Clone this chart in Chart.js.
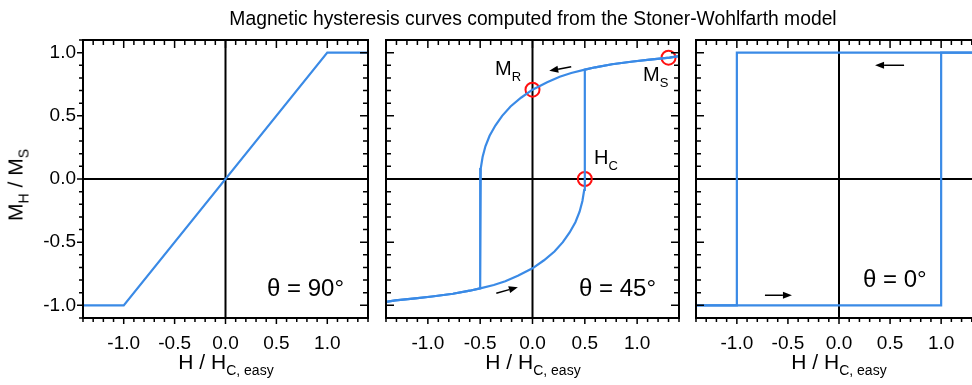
<!DOCTYPE html>
<html>
<head>
<meta charset="utf-8">
<script src="https://cdn.jsdelivr.net/npm/chart.js@4.4.1/dist/chart.umd.min.js"></script>
<style>
  body { margin: 0; width: 972px; height: 385px; overflow: hidden; background: #fff; position: relative;
         font-family: "Liberation Sans", Arial, sans-serif; color: #000; }
  canvas { position: absolute; top: 0; }
  .lbl { position: absolute; white-space: nowrap; line-height: 1; }
  .lbl sub { position: relative; top: 0.45em; vertical-align: baseline; line-height: 0; }
  .ttl { font-size: 19.3px; }
  .axt { font-size: 21px; }
  .axt sub { font-size: 14px; }
  .ang { font-size: 24px; }
  .mk { font-size: 20px; }
  .mk sub { font-size: 13px; }
</style>
</head>
<body>
<canvas id="p90" width="376" height="385" style="left:0px"></canvas>
<canvas id="p45" width="312" height="385" style="left:376px"></canvas>
<canvas id="p0" width="312" height="385" style="left:688px"></canvas>

<div class="lbl ttl" style="left:533px; top:9px; transform:translateX(-50%)">Magnetic hysteresis curves computed from the Stoner-Wohlfarth model</div>

<div class="lbl axt" style="left:15px; top:185px; transform:translate(-50%,-50%) rotate(-90deg)">M<sub>H</sub> / M<sub>S</sub></div>

<div class="lbl axt" style="left:226px; top:351px; transform:translateX(-50%)">H / H<sub>C, easy</sub></div>
<div class="lbl axt" style="left:533px; top:351px; transform:translateX(-50%)">H / H<sub>C, easy</sub></div>
<div class="lbl axt" style="left:839px; top:351px; transform:translateX(-50%)">H / H<sub>C, easy</sub></div>

<div class="lbl ang" style="left:267px; top:276px">&theta; = 90&deg;</div>
<div class="lbl ang" style="left:579px; top:276px">&theta; = 45&deg;</div>
<div class="lbl ang" style="left:863px; top:267px">&theta; = 0&deg;</div>

<div class="lbl mk" style="left:495px; top:58px">M<sub>R</sub></div>
<div class="lbl mk" style="left:643px; top:64px">M<sub>S</sub></div>
<div class="lbl mk" style="left:594px; top:147px">H<sub>C</sub></div>

<script>
"use strict"

// axis ranges and labelled ticks
const hRange = [-1.4, 1.4];
const mRange = [-1.1, 1.1];
const majorTicks = [-1.0, -0.5, 0.0, 0.5, 1.0];

// theta = 90 deg (hard axis)
const h90 = [-1.4, -1.0, 1.0, 1.4];
const m90 = [-1.0, -1.0, 1.0, 1.0];

// theta = 45 deg, field sweeping down
const h45Down = [1.4, 1.31, 1.12, 0.96, 0.76, 0.6, 0.5, 0.37, 0.26, 0.14, 0.0, -0.11, -0.21, -0.29, -0.355, -0.41, -0.45, -0.477, -0.494, -0.5,
                 -0.5, -0.6, -0.76, -0.96, -1.12, -1.31, -1.4];
const m45Down = [0.972, 0.96, 0.945, 0.93, 0.908, 0.884, 0.866, 0.839, 0.809, 0.766, 0.707, 0.643, 0.574, 0.5, 0.423, 0.342, 0.259, 0.174, 0.087, 0.0,
                 -0.866, -0.884, -0.908, -0.93, -0.945, -0.96, -0.972];
// theta = 45 deg, field sweeping up
const h45Up = [-1.4, -1.31, -1.12, -0.96, -0.76, -0.6, -0.5, -0.37, -0.26, -0.14, 0.0, 0.11, 0.21, 0.29, 0.355, 0.41, 0.45, 0.477, 0.494, 0.5,
               0.5, 0.6, 0.76, 0.96, 1.12, 1.31, 1.4];
const m45Up = [-0.972, -0.96, -0.945, -0.93, -0.908, -0.884, -0.866, -0.839, -0.809, -0.766, -0.707, -0.643, -0.574, -0.5, -0.423, -0.342, -0.259, -0.174, -0.087, 0.0,
               0.866, 0.884, 0.908, 0.93, 0.945, 0.96, 0.972];
// remanence, coercivity, saturation markers
const markH = [0.0, 0.5, 1.3];
const markM = [0.707, 0.0, 0.96];

// theta = 0 deg (easy axis)
const h0Up = [-1.4, 1.0, 1.0, 1.4];
const m0Up = [-1.0, -1.0, 1.0, 1.0];
const h0Down = [1.4, -1.0, -1.0, -1.4];
const m0Down = [1.0, 1.0, -1.0, -1.0];

const blue = "#3a8ae6";

function pts(xs, ys){
    return xs.map((x, i) => ({x: x, y: ys[i]}));
}

function curve(xs, ys){
    return {
        data: pts(xs, ys),
        showLine: true,
        borderColor: blue,
        borderWidth: 2.2,
        pointRadius: 0,
        tension: 0
    };
}

function fmt(v){
    return Math.abs(v) < 1e-9 ? "0.0" : v.toFixed(1);
}

// frame, zero lines, minor/major ticks and arrows
const framePlugin = {
    id: "frame",
    beforeDatasetsDraw(chart){
        const ctx = chart.ctx, a = chart.chartArea;
        const x0 = chart.scales.x.getPixelForValue(0);
        const y0 = chart.scales.y.getPixelForValue(0);
        ctx.save();
        ctx.strokeStyle = "#000";
        ctx.lineWidth = 2;
        ctx.beginPath();
        ctx.moveTo(x0, a.top); ctx.lineTo(x0, a.bottom);
        ctx.moveTo(a.left, y0); ctx.lineTo(a.right, y0);
        ctx.stroke();
        ctx.restore();
    },
    afterDraw(chart, args, opts){
        const ctx = chart.ctx, a = chart.chartArea;
        const sx = chart.scales.x, sy = chart.scales.y;
        ctx.save();
        ctx.strokeStyle = "#000";
        ctx.lineWidth = 1.5;
        ctx.beginPath();
        for (let i = -14; i <= 14; i++){
            const x = sx.getPixelForValue(i / 10);
            const big = i % 5 == 0;
            // bottom: outward, top: inward
            ctx.moveTo(x, a.bottom); ctx.lineTo(x, a.bottom + (big ? 6 : 4));
            ctx.moveTo(x, a.top); ctx.lineTo(x, a.top + (big ? 8 : 5));
        }
        for (let i = -11; i <= 11; i++){
            const y = sy.getPixelForValue(i / 10);
            const big = i % 5 == 0;
            if (opts.leftOut){
                ctx.moveTo(a.left, y); ctx.lineTo(a.left - (big ? 6 : 4), y);
            } else {
                ctx.moveTo(a.left, y); ctx.lineTo(a.left + (big ? 8 : 5), y);
            }
            ctx.moveTo(a.right, y); ctx.lineTo(a.right - (big ? 8 : 5), y);
        }
        ctx.stroke();

        ctx.lineWidth = 2;
        ctx.strokeRect(a.left, a.top, a.right - a.left, a.bottom - a.top);

        // direction arrows
        (opts.arrows || []).forEach(ar => {
            const x1 = sx.getPixelForValue(ar[0]), y1 = sy.getPixelForValue(ar[1]);
            const x2 = sx.getPixelForValue(ar[2]), y2 = sy.getPixelForValue(ar[3]);
            const ang = Math.atan2(y2 - y1, x2 - x1);
            const hl = 9, hw = 3.5;
            const bx = x2 - hl * Math.cos(ang), by = y2 - hl * Math.sin(ang);
            ctx.lineWidth = 1.5;
            ctx.beginPath();
            ctx.moveTo(x1, y1); ctx.lineTo(bx, by);
            ctx.stroke();
            ctx.fillStyle = "#000";
            ctx.beginPath();
            ctx.moveTo(x2, y2);
            ctx.lineTo(bx + hw * Math.sin(ang), by - hw * Math.cos(ang));
            ctx.lineTo(bx - hw * Math.sin(ang), by + hw * Math.cos(ang));
            ctx.closePath();
            ctx.fill();
        });
        ctx.restore();
    }
};

function makePanel(id, datasets, pad, showY, arrows){
    return new Chart(document.getElementById(id), {
        type: "scatter",
        data: { datasets: datasets },
        plugins: [framePlugin],
        options: {
            responsive: false,
            animation: false,
            events: [],
            layout: { padding: pad },
            plugins: {
                legend: { display: false },
                tooltip: { enabled: false },
                frame: { leftOut: showY, arrows: arrows }
            },
            scales: {
                x: {
                    type: "linear", min: hRange[0], max: hRange[1],
                    grid: { display: false, drawTicks: false },
                    border: { display: false },
                    afterBuildTicks: s => { s.ticks = majorTicks.map(v => ({value: v})); },
                    ticks: {
                        autoSkip: false, maxRotation: 0, padding: 14,
                        color: "#000",
                        font: { family: "Liberation Sans", size: 19 },
                        callback: v => fmt(v)
                    },
                    afterFit: s => { s.height = 67; }
                },
                y: {
                    type: "linear", min: mRange[0], max: mRange[1],
                    display: showY,
                    grid: { display: false, drawTicks: false },
                    border: { display: false },
                    afterBuildTicks: s => { s.ticks = majorTicks.map(v => ({value: v})); },
                    ticks: {
                        autoSkip: false, padding: 7,
                        color: "#000",
                        font: { family: "Liberation Sans", size: 19 },
                        callback: v => fmt(v)
                    },
                    afterFit: s => { s.width = showY ? 83 : 0; }
                }
            }
        }
    });
}

window.onload = function(){
    makePanel("p90", [curve(h90, m90)], {left: 0, right: 8, top: 40, bottom: 0}, true, []);

    makePanel("p45", [
        curve(h45Down, m45Down),
        curve(h45Up, m45Up),
        {
            data: pts(markH, markM),
            pointRadius: 7,
            pointBorderWidth: 2,
            pointBorderColor: "#ff1010",
            pointBackgroundColor: "rgba(0,0,0,0)",
            showLine: false
        }
    ], {left: 10, right: 8, top: 40, bottom: 0}, false,
       [[0.37, 0.888, 0.16, 0.856], [-0.346, -0.904, -0.14, -0.856]]);

    makePanel("p0", [curve(h0Up, m0Up), curve(h0Down, m0Down)],
       {left: 8, right: 18, top: 40, bottom: 0}, false,
       [[0.637, 0.9, 0.353, 0.9], [-0.725, -0.92, -0.461, -0.92]]);
}
</script>
</body>
</html>
